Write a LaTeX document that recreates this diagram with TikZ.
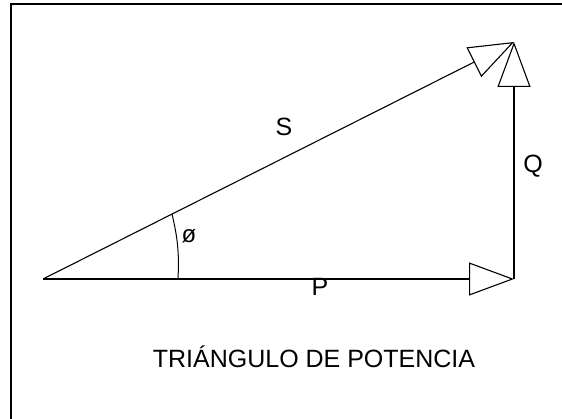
\documentclass[tikz,border=0pt]{standalone}
\usepackage{fontspec}
\setmainfont{Liberation Sans}
\usetikzlibrary{arrows.meta}

\begin{document}
\begin{tikzpicture}
[
	x=1pt,y=-1pt,
	vec/.style={line width=1.1pt,-{Triangle[open,length=45pt,width=33pt,line width=1.1pt]}},
	lbl/.style={inner sep=0pt,font=\fontsize{25}{25}\selectfont}
]

	\useasboundingbox (0,0) rectangle (562,419);

	% frame
	\draw[line width=2pt] (11,4) rectangle (572,419.5);

	\coordinate (origin) at (43,279);
	\coordinate (corner) at (514,279);
	\coordinate (apex) at (514,42);

	% power triangle
	\draw[vec] (origin) -- (corner);
	\draw[vec] (corner) -- (apex);
	\draw[vec] (origin) -- (apex);

	% angle
	\coordinate (arcbot) at (178,279);
	\coordinate (arctop) at (172,214);
	\draw[line width=1pt] (arcbot) to[bend right=8] (arctop);

	\node[lbl] (slbl) at (284,127) {S};
	\node[lbl] (qlbl) at (533,166) {Q};
	\node[lbl] (plbl) at (320,287) {P};
	\node[lbl,font=\fontsize{24}{24}\selectfont] (philbl) at (189,236) {ø};
	\node[lbl] (title) at (314,357) {TRIÁNGULO DE POTENCIA};

\end{tikzpicture}
\end{document}
